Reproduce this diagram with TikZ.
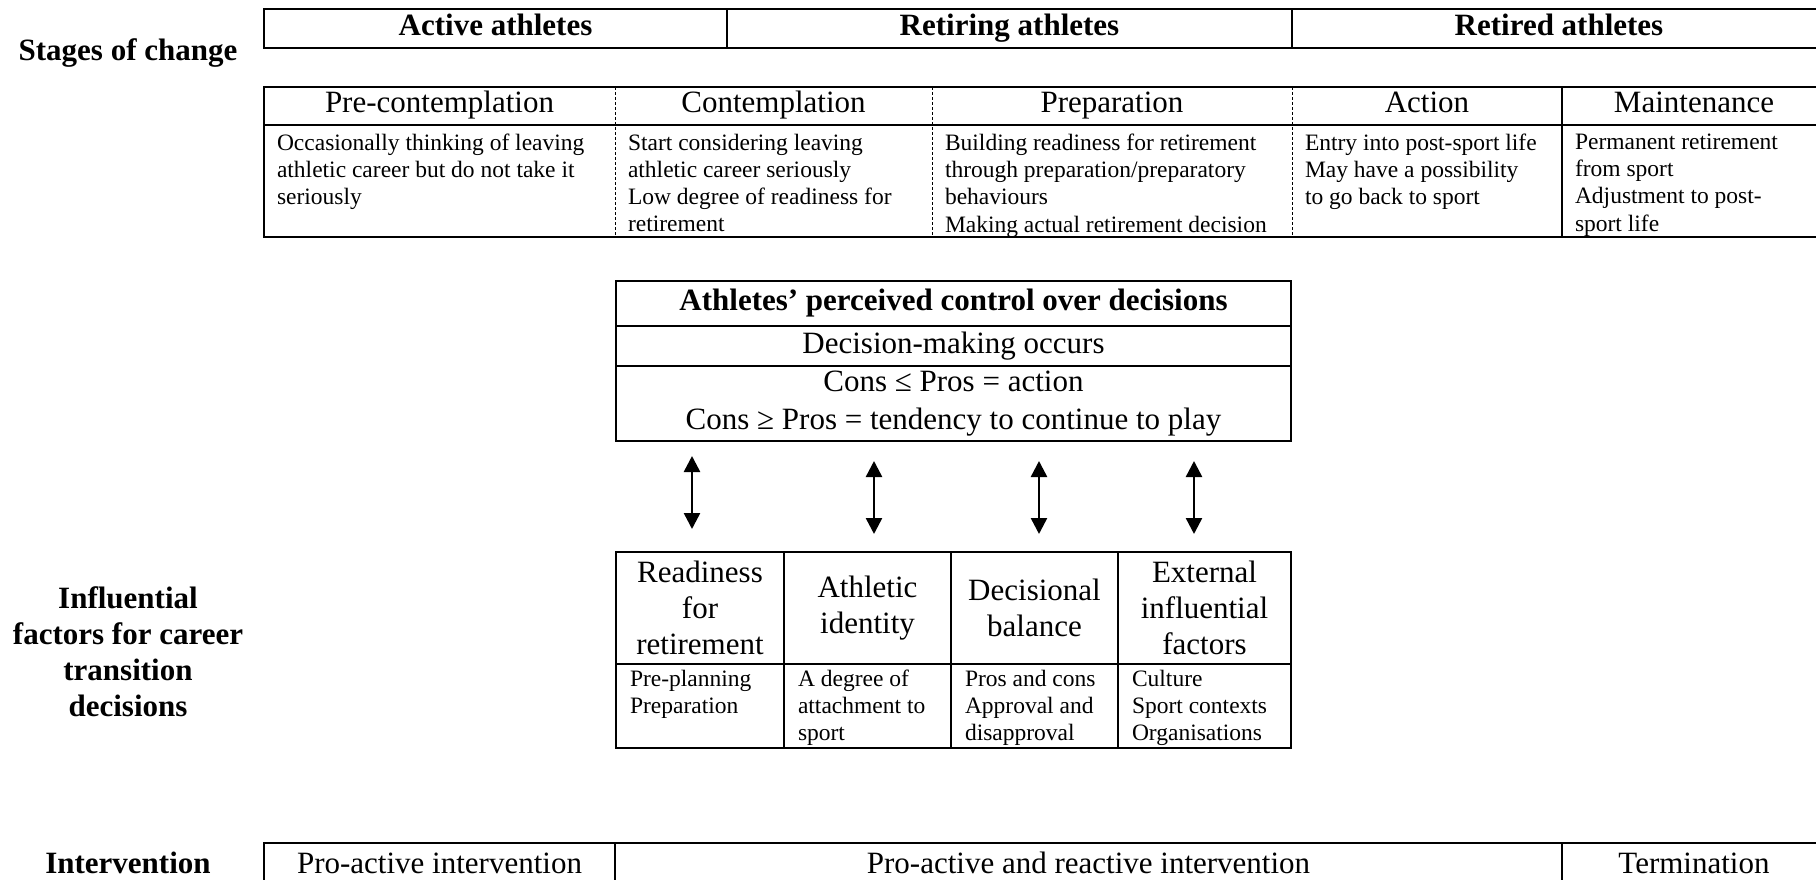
\documentclass[tikz,border=0pt]{standalone}
\usepackage{fontspec}
\setmainfont{Liberation Serif}
\usetikzlibrary{positioning,arrows.meta}

\begin{document}
\begin{tikzpicture}[x=1pt,y=-1pt]
    \tikzset{
        cell/.style = {rectangle, inner sep=0pt, outer sep=0pt, text centered, text height=21pt, text depth=7pt, font=\fontsize{31}{37}\selectfont},
        ruled/.style = {cell, draw, line width=2pt},
        band/.style = {cell, draw, line width=2.2pt, minimum height=39pt, font=\fontsize{31}{37}\selectfont\bfseries},
        factor/.style = {rectangle, draw, line width=2pt, inner sep=0pt, outer sep=0pt, align=center, minimum height=112pt, font=\fontsize{31}{36}\selectfont},
        body/.style = {inner sep=0pt, outer sep=0pt, anchor=north west, align=left, execute at begin node=\strut, font=\fontsize{23.5}{27.2}\selectfont},
        sidetitle/.style = {align=center, inner sep=0pt, font=\fontsize{31}{36}\selectfont\bfseries},
        rule/.style = {line width=2pt},
        dashrule/.style = {line width=1pt, dash pattern=on 3pt off 2pt},
        dbl/.style = {line width=2.5pt, <->, >={Triangle[width=16pt,length=16pt]}},
    }
    \useasboundingbox (0,0) rectangle (1816,880);
    \clip (0,0) rectangle (1816,880);
    \fill[white] (0,0) rectangle (1816,880);

    % side titles
    \node[sidetitle] (stages) at (128,53) {Stages of change};
    \node[sidetitle] (factors) at (128,652) {Influential\\factors for career\\transition\\decisions};
    \node[sidetitle] (interv) at (128,863) {Intervention};

    % athlete groups
    \node[band, minimum width=463pt, anchor=north west] (active) at (264,9) {Active athletes};
    \node[band, minimum width=565pt, right=0pt of active] (retiring) {Retiring athletes};
    \node[band, minimum width=534pt, right=0pt of retiring] (retired) {Retired athletes};

    % stages
    \node[cell, minimum width=351pt, minimum height=38pt, anchor=north west] (pre) at (264,87) {Pre-contemplation};
    \node[cell, minimum width=317pt, minimum height=38pt, right=0pt of pre] (con) {Contemplation};
    \node[cell, minimum width=360pt, minimum height=38pt, right=0pt of con] (prep) {Preparation};
    \node[cell, minimum width=270pt, minimum height=38pt, right=0pt of prep] (act) {Action};
    \node[cell, minimum width=264pt, minimum height=38pt, right=0pt of act] (main) {Maintenance};

    \node[body] (preb) at ([xshift=13pt,yshift=-9pt]pre.south west) {Occasionally thinking of leaving\\athletic career but do not take it\\seriously};
    \node[body] (conb) at ([xshift=13pt,yshift=-9pt]con.south west) {Start considering leaving\\athletic career seriously\\Low degree of readiness for\\retirement};
    \node[body] (prepb) at ([xshift=13pt,yshift=-9pt]prep.south west) {Building readiness for retirement\\through preparation/preparatory\\behaviours\\Making actual retirement decision};
    \node[body] (actb) at ([xshift=13pt,yshift=-9pt]act.south west) {Entry into post-sport life\\May have a possibility\\to go back to sport};
    \node[body] (mainb) at ([xshift=13pt,yshift=-9pt]main.south west) {Permanent retirement\\from sport\\Adjustment to post-\\sport life};

    \coordinate (rowbot) at (0,237);
    \draw[rule] (pre.north west) rectangle (main.east |- rowbot);
    \draw[rule] (pre.south west) -- (main.south east);
    \draw[dashrule] (pre.north east) -- (pre.north east |- rowbot);
    \draw[dashrule] (con.north east) -- (con.north east |- rowbot);
    \draw[dashrule] (prep.north east) -- (prep.north east |- rowbot);
    \draw[rule] (act.north east) -- (act.north east |- rowbot);

    % decision box
    \node[ruled, minimum width=675pt, minimum height=45pt, font=\fontsize{31}{37}\selectfont\bfseries, anchor=north west] (control) at (616,281) {Athletes’ perceived control over decisions};
    \node[ruled, minimum width=675pt, minimum height=40pt, below=0pt of control] (occurs) {Decision-making occurs};
    \node[rectangle, draw, line width=2pt, inner sep=0pt, outer sep=0pt, align=center, minimum width=675pt, minimum height=75pt, font=\fontsize{31}{38}\selectfont, below=0pt of occurs] (balance) {Cons ≤ Pros = action\\Cons ≥ Pros = tendency to continue to play};

    % influential factors
    \node[factor, minimum width=168pt, anchor=north west] (ready) at (616,552) {Readiness\\for\\retirement};
    \node[factor, minimum width=167pt, right=0pt of ready] (ident) {Athletic\\identity};
    \node[factor, minimum width=167pt, right=0pt of ident] (decbal) {Decisional\\balance};
    \node[factor, minimum width=173pt, right=0pt of decbal] (extern) {External\\influential\\factors};

    \node[body] (readyb) at ([xshift=14pt,yshift=-6pt]ready.south west) {Pre-planning\\Preparation};
    \node[body] (identb) at ([xshift=14pt,yshift=-6pt]ident.south west) {A degree of\\attachment to\\sport};
    \node[body] (decbalb) at ([xshift=14pt,yshift=-6pt]decbal.south west) {Pros and cons\\Approval and\\disapproval};
    \node[body] (externb) at ([xshift=14pt,yshift=-6pt]extern.south west) {Culture\\Sport contexts\\Organisations};

    \coordinate (lowbot) at (0,748);
    \draw[rule] (ready.south west) rectangle (extern.south east |- lowbot);
    \draw[rule] (ready.south east) -- (ready.south east |- lowbot);
    \draw[rule] (ident.south east) -- (ident.south east |- lowbot);
    \draw[rule] (decbal.south east) -- (decbal.south east |- lowbot);

    \draw[dbl] ([xshift=-8pt,yshift=23pt]ready.north) -- ([xshift=-8pt,yshift=96pt]ready.north);
    \draw[dbl] ([xshift=6.5pt,yshift=18pt]ident.north) -- ([xshift=6.5pt,yshift=91pt]ident.north);
    \draw[dbl] ([xshift=4.5pt,yshift=18pt]decbal.north) -- ([xshift=4.5pt,yshift=91pt]decbal.north);
    \draw[dbl] ([xshift=-10.5pt,yshift=18pt]extern.north) -- ([xshift=-10.5pt,yshift=91pt]extern.north);

    % intervention
    \node[ruled, minimum width=351pt, minimum height=46pt, anchor=north west] (proact) at (264,843) {Pro-active intervention};
    \node[ruled, minimum width=947pt, minimum height=46pt, right=0pt of proact] (both) {Pro-active and reactive intervention};
    \node[ruled, minimum width=264pt, minimum height=46pt, right=0pt of both] (term) {Termination};
\end{tikzpicture}
\end{document}
